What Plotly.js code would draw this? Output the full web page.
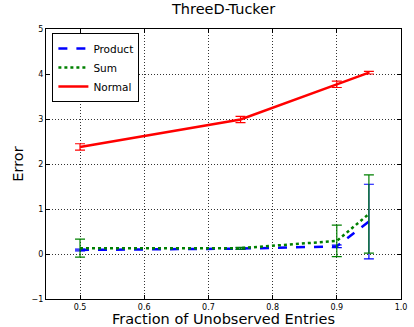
<!DOCTYPE html>
<html><head><meta charset="utf-8">
<script src="https://cdn.plot.ly/plotly-3.0.1.min.js"></script>
<style>body{margin:0;padding:0;background:#fff}#chart{width:414px;height:327px}</style>
</head><body><div id="chart"></div>
<script>
const fractions = [0.5, 0.75, 0.9, 0.95];
const productVals = [0.09, 0.12, 0.17, 0.72];
const productErr = [0.02, 0.02, 0.03, 0.83];
const sumVals = [0.13, 0.13, 0.29, 0.89];
const sumErr = [0.2, 0.02, 0.35, 0.87];
const normalVals = [2.38, 2.99, 3.77, 4.03];
const normalErr = [0.07, 0.07, 0.07, 0.03];
const xTicks = [0.5, 0.6, 0.7, 0.8, 0.9, 1.0];
const xTickText = ['0.5', '0.6', '0.7', '0.8', '0.9', '1.0'];
const yTicks = [-1, 0, 1, 2, 3, 4, 5];
const yTickText = ['\u22121', '0', '1', '2', '3', '4', '5'];

function tr(name, y, err, color, dash, w) {
  return {x: fractions, y: y, name: name, type: 'scatter', mode: 'lines',
    line: {color: color, dash: dash, width: w},
    error_y: {type: 'data', array: err, visible: true, color: color, thickness: 1.2, width: 5}};
}
const data = [
  tr('Product', productVals, productErr, '#0000ff', 'dash', 2.5),
  tr('Sum', sumVals, sumErr, '#008000', 'dot', 2.5),
  tr('Normal', normalVals, normalErr, '#ff0000', 'solid', 2.5)
];
const ax = {showline: true, linecolor: '#000', linewidth: 1, mirror: 'ticks', ticks: 'inside', ticklen: 4,
  tickcolor: '#000', showgrid: true, gridcolor: '#333', griddash: '1px,2px', gridwidth: 1, zeroline: false,
  tickfont: {family: 'DejaVu Sans', size: 8, color: '#000'}};
const layout = {
  width: 414, height: 327,
  margin: {l: 46, r: 13, t: 29, b: 28},
  paper_bgcolor: '#fff', plot_bgcolor: '#fff',
  title: {text: 'ThreeD-Tucker', font: {family: 'DejaVu Sans', size: 14.5, color: '#000'}, x: 0.54, xanchor: 'center', y: 0.988, yanchor: 'top'},
  xaxis: Object.assign({}, ax, {range: [0.447, 1.0], tickvals: xTicks, ticktext: xTickText,
    title: {text: 'Fraction of Unobserved Entries', font: {family: 'DejaVu Sans', size: 14.5, color: '#000'}, standoff: 4}}),
  yaxis: Object.assign({}, ax, {range: [-1, 5], tickvals: yTicks, ticktext: yTickText,
    title: {text: 'Error', font: {family: 'DejaVu Sans', size: 14.5, color: '#000'}, standoff: 4}}),
  legend: {x: 0.018, y: 0.985, xanchor: 'left', yanchor: 'top', bordercolor: '#000', borderwidth: 1, bgcolor: '#fff',
    font: {family: 'DejaVu Sans', size: 10.5, color: '#000'}, tracegroupgap: 0, itemwidth: 30},
  showlegend: true
};
Plotly.newPlot('chart', data, layout, {displayModeBar: false, staticPlot: true});
</script></body></html>
